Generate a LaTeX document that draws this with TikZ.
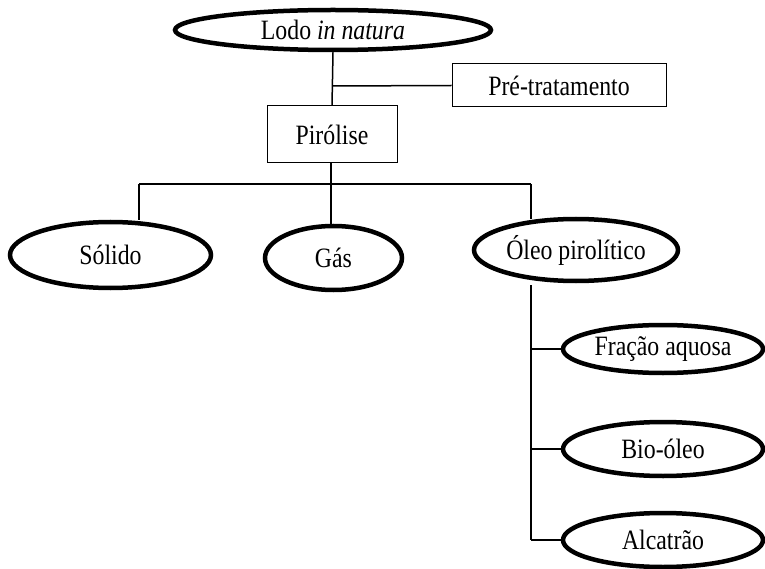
\documentclass[tikz,border=0pt]{standalone}
\usepackage{fontspec}
\setmainfont[FakeStretch=0.85]{Liberation Serif}
\usetikzlibrary{shapes.geometric}
\begin{document}
\begin{tikzpicture}[x=1pt,y=-1pt,
  every node/.style={font=\fontsize{28}{32}\selectfont, inner sep=0pt},
  oval/.style={ellipse, draw, line width=4.5pt},
  stage/.style={rectangle, draw, line width=1pt},
  link/.style={draw, line width=1.5pt}]
\useasboundingbox (0,0) rectangle (765,569);

% raw material and processing steps
\node[oval, minimum width=316, minimum height=40] (lodo) at (333,30) {Lodo \textit{in natura}};
\node[stage, minimum width=214, minimum height=43] (pre) at (559,85.5) {Pré-tratamento};
\node[stage, minimum width=130, minimum height=57] (pir) at (332,134.5) {Pirólise};

% pyrolysis products
\node[oval, minimum width=201, minimum height=66] (sol) at (110.5,255) {Sólido};
\node[oval, minimum width=137, minimum height=64] (gas) at (333.5,258) {Gás};
\node[oval, minimum width=204, minimum height=62] (oleo) at (576,250) {Óleo pirolítico};

% fractions of the pyrolytic oil
\node[oval, minimum width=200, minimum height=48] (fra) at (663,349) {Fração aquosa};
\node[oval, minimum width=200, minimum height=54] (bio) at (663,449) {Bio-óleo};
\node[oval, minimum width=200, minimum height=54] (alc) at (663,540) {Alcatrão};

% junction points
\coordinate (jpre) at (332,86);
\coordinate (busL) at (139,184);
\coordinate (busM) at (331,184);
\coordinate (busR) at (531,184);
\coordinate (tr1) at (531,349);
\coordinate (tr2) at (531,449);
\coordinate (tr3) at (531,540);

% connectors
\draw[link] (lodo.south) -- (pir.north);
\draw[link] (jpre) -- (pre.west);
\draw[link] (pir.south -| busM) -- (busM);
\draw[link] (busL) -- (busR);
\draw[link] (busL) -- (busL |- sol.north);
\draw[link] (busM) -- (busM |- gas.north);
\draw[link] (busR) -- ([yshift=-2]busR |- oleo.north);
\draw[link] ([yshift=-2]oleo.south -| tr1) -- (tr3);
\draw[link] (tr1) -- (fra.west);
\draw[link] (tr2) -- (bio.west);
\draw[link] (tr3) -- (alc.west);
\end{tikzpicture}
\end{document}
